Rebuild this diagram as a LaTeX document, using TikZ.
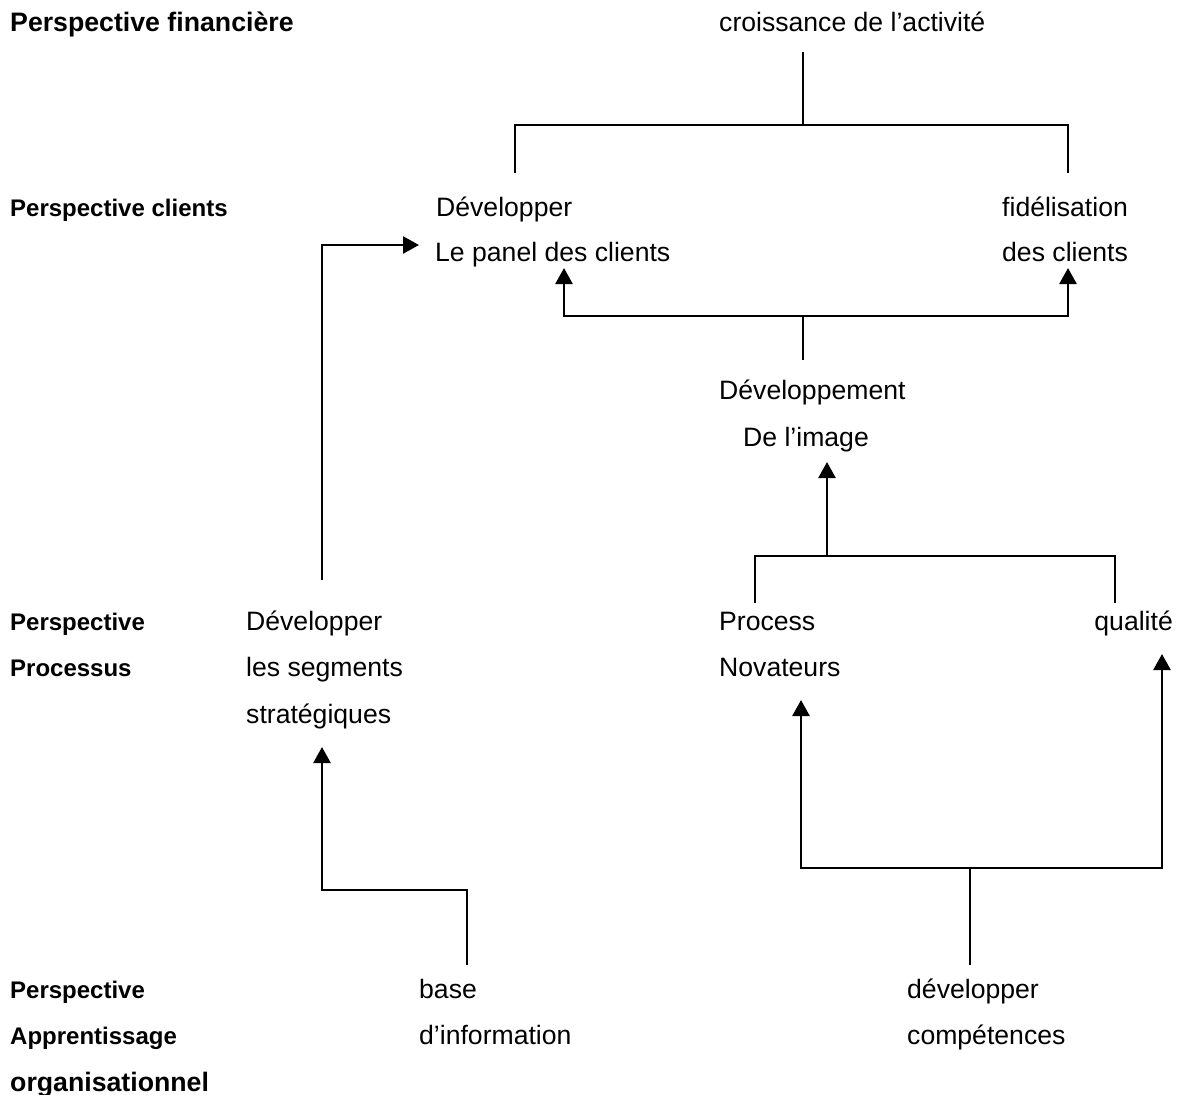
\documentclass[tikz,border=0pt]{standalone}
\usepackage{fontspec}
\setmainfont{Liberation Sans}
\usetikzlibrary{arrows.meta}

\tikzset{
  txt/.style={anchor=base west, inner sep=0pt, font=\fontsize{26.6}{32}\selectfont},
  lbl/.style={anchor=base west, inner sep=0pt, font=\fontsize{24}{29}\selectfont\bfseries},
  biglbl/.style={anchor=base west, inner sep=0pt, font=\fontsize{26.7}{32}\selectfont\bfseries},
  wire/.style={line width=2.6pt, line join=miter},
  arr/.style={wire, -{Triangle[length=16pt,width=17pt]}}
}

\begin{document}
\begin{tikzpicture}[x=1pt,y=-1pt]
\useasboundingbox (0,0) rectangle (1184,1095);

% perspective labels
\node[biglbl] (pfin)  at (10,31)   {Perspective financière};
\node[lbl]    (pcli)  at (10,216)  {Perspective clients};
\node[lbl]    (ppro1) at (10,630)  {Perspective};
\node[lbl]    (ppro2) at (10,676)  {Processus};
\node[lbl]    (papp1) at (10,998)  {Perspective};
\node[lbl]    (papp2) at (10,1044) {Apprentissage};
\node[biglbl] (papp3) at (10,1091) {organisationnel};

% objectives
\node[txt] (croiss) at (719,31)  {croissance de l’activité};
\node[txt] (panel1) at (436,216) {Développer};
\node[txt] (panel2) at (435,261) {Le panel des clients};
\node[txt] (fid1)   at (1002,216) {fidélisation};
\node[txt] (fid2)   at (1002,261) {des clients};
\node[txt] (img1)   at (719,399) {Développement};
\node[txt] (img2)   at (743,446) {De l’image};
\node[txt] (seg1)   at (246,630) {Développer};
\node[txt] (seg2)   at (246,676) {les segments};
\node[txt] (seg3)   at (246,723) {stratégiques};
\node[txt] (proc1)  at (719,630) {Process};
\node[txt] (proc2)  at (719,676) {Novateurs};
\node[txt, anchor=base east] (qual) at (1173,630) {qualité};
\node[txt] (base1)  at (419,998) {base};
\node[txt] (base2)  at (419,1044) {d’information};
\node[txt] (comp1)  at (907,998) {développer};
\node[txt] (comp2)  at (907,1044) {compétences};

% attachment points of the connectors
\coordinate (croissFoot) at (803,52);
\coordinate (finJ)       at (803,125);
\coordinate (panelTop)   at (515,173);
\coordinate (fidTop)     at (1068,173);

\coordinate (segTop)     at (322,580);
\coordinate (panelIn)    at (419,245);

\coordinate (imgTop)     at (803,360);
\coordinate (cliJ)       at (803,316);
\coordinate (panelFoot)  at (564,268);
\coordinate (fidFoot)    at (1068,268);

\coordinate (procJ)      at (827,556);
\coordinate (imgFoot)    at (827,462);
\coordinate (procTop)    at (755,603);
\coordinate (qualTop)    at (1115,603);

\coordinate (baseTop)    at (467,965);
\coordinate (baseJ)      at (467,890);
\coordinate (segFoot)    at (322,747);

\coordinate (compTop)    at (970,965);
\coordinate (compJ)      at (970,868);
\coordinate (procFoot)   at (801,700);
\coordinate (qualFoot)   at (1162,654);

% financial level
\draw[wire] (croissFoot) -- (finJ);
\draw[wire] (panelTop) -- (panelTop|-finJ) -- (fidTop|-finJ) -- (fidTop);

% strategic segments -> client panel
\draw[arr] (segTop) |- (panelIn);

% image -> clients
\draw[wire] (imgTop) -- (cliJ);
\draw[arr] (cliJ) -| (panelFoot);
\draw[arr] (cliJ) -| (fidFoot);

% processes -> image
\draw[arr] (procJ) -- (imgFoot);
\draw[wire] (procTop) -- (procTop|-procJ) -- (qualTop|-procJ) -- (qualTop);

% information base -> segments
\draw[arr] (baseTop) -- (baseJ) -| (segFoot);

% skills -> processes
\draw[wire] (compTop) -- (compJ);
\draw[arr] (compJ) -| (procFoot);
\draw[arr] (compJ) -| (qualFoot);
\end{tikzpicture}
\end{document}
